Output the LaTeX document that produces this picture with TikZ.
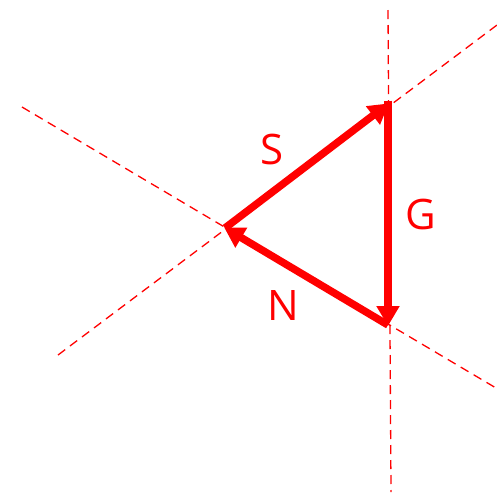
\documentclass[tikz,border=0pt]{standalone}
\usepackage{fontspec}
\setmainfont{Open Sans}
\usepackage{tikz}
\usetikzlibrary{arrows.meta, positioning, calc}
\definecolor{myred}{RGB}{255,0,0}
\tikzset{
  force/.style={-{Triangle[length=20pt, width=22pt]}, line width=7.5pt,
    color=myred, shorten >=-1pt},
  guide/.style={dashed, dash pattern=on 9pt off 6pt, line width=1.3pt, color=myred},
  flabel/.style={font=\fontsize{42}{42}\selectfont, text=myred, inner sep=0pt}
}
\begin{document}
\begin{tikzpicture}[x=1pt, y=-1pt]
  \useasboundingbox (0,0) rectangle (497,496);

  % vertices of the force triangle
  \coordinate (A) at (225,228);
  \coordinate (B) at (388,104);
  \coordinate (C) at (388,325);

  % ends of the guide lines
  \coordinate (ab1) at (58,355);
  \coordinate (ab2) at (497,25);
  \coordinate (ac1) at (22,107);
  \coordinate (ac2) at (496,388);
  \coordinate (bc1) at (388,10);
  \coordinate (bc2) at (391,492);

  \draw[guide] (ab1) -- (ab2);
  \draw[guide] (ac1) -- (ac2);
  \draw[guide] (bc1) -- (bc2);

  \draw[force] (A) -- (B);
  \draw[force] ($(B)+(0,-3.5)$) -- (C);
  \draw[force] (C) -- (A);

  \node[flabel] (S) at (272,149) {S};
  \node[flabel] (G) at (421,214) {G};
  \node[flabel] (N) at (283,305) {N};
\end{tikzpicture}
\end{document}
